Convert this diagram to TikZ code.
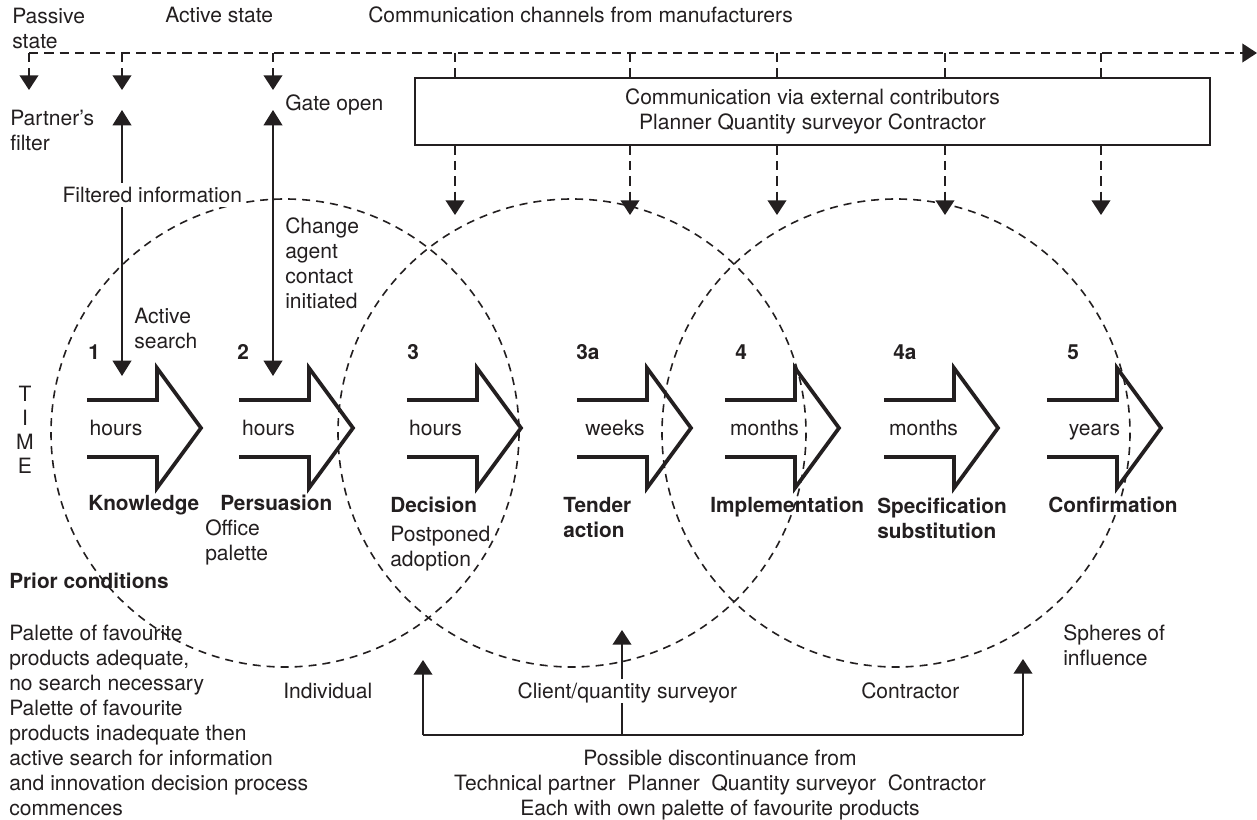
\documentclass[tikz,border=0pt]{standalone}
\usepackage{fontspec}
\setmainfont{TeX Gyre Heros}
\usetikzlibrary{arrows.meta}
\definecolor{ink}{RGB}{35,31,32}
\newcommand\stagearrow[1]{%
  \draw[bigarrow] (#1,400) -- (#1+70,400) -- (#1+70,368) -- (#1+114,428)
    -- (#1+70,488) -- (#1+70,457) -- (#1,457);}
\begin{document}
\begin{tikzpicture}[x=0.75pt,y=-0.75pt,
  txt/.style={font=\fontsize{15.8}{18.75}\selectfont, text=ink, inner sep=0pt, align=left},
  one/.style={txt, text height=11.3pt, text depth=0pt},
  bold/.style={font=\fontsize{15.6}{18.75}\selectfont\bfseries},
  dashln/.style={draw=ink, line width=1.4pt, dash pattern=on 7pt off 4.5pt},
  sphere/.style={draw=ink, line width=1.2pt, dash pattern=on 6pt off 4.5pt},
  solidln/.style={draw=ink, line width=1.3pt},
  tipA/.style={-{Triangle[width=14pt,length=11pt]}},
  bothA/.style={{Triangle[width=14pt,length=11.5pt]}-{Triangle[width=14pt,length=11.5pt]}},
  bigarrow/.style={draw=ink, line width=2.8pt, line join=miter},
  knock/.style={fill=white, inner xsep=1pt, inner ysep=3pt}
]
\fill[white] (0,0) rectangle (1257,820);
\useasboundingbox (0,0) rectangle (1257,820);

% spheres of influence
\draw[sphere] (285,433) circle[radius=234];
\draw[sphere] (572,433) circle[radius=234];
\draw[sphere] (896,433) circle[radius=234];

% stage arrows
\stagearrow{87}
\stagearrow{239}
\stagearrow{407}
\stagearrow{577}
\stagearrow{725}
\stagearrow{884}
\stagearrow{1047}

% manufacturers' channel
\coordinate (c0) at (29,53);
\coordinate (cend) at (1257,53);
\coordinate (c1) at (122,53);
\coordinate (c2) at (273,53);
\draw[dashln,tipA] (c0) -- (cend);
\coordinate (p0) at (29,90);
\coordinate (p1) at (122,90);
\coordinate (p2) at (273,90);
\draw[dashln,tipA] (c0) -- (p0);
\draw[dashln,tipA] (c1) -- (p1);
\draw[dashln,tipA] (c2) -- (p2);

% external contributors box
\node[draw=ink, line width=0.9pt, minimum width=596.25pt, minimum height=50.25pt,
      txt, align=center] (box) at (812.5,111.5)
      {Communication via external contributors\\Planner Quantity surveyor Contractor};
\foreach \xx [count=\i] in {455,630,777,945,1101}{
  \coordinate (d\i) at (\xx,53);
  \coordinate (e\i) at (\xx,215);
  \draw[dashln] (d\i) -- (box.north -| d\i);
  \draw[dashln,tipA] (box.south -| d\i) -- (e\i);
}

% active search / change agent links
\coordinate (f1) at (122,110);
\coordinate (f2) at (122,376);
\coordinate (g1) at (273,110);
\coordinate (g2) at (273,376);
\draw[solidln,bothA] (f1) -- (f2);
\draw[solidln,bothA] (g1) -- (g2);

% discontinuance feedback
\coordinate (b1) at (423,735);
\coordinate (b2) at (622,735);
\coordinate (b3) at (1023,735);
\coordinate (t1) at (423,660);
\coordinate (t2) at (622,630);
\coordinate (t3) at (1023,659);
\draw[solidln] (b1) -- (b3);
\draw[solidln,tipA] (b1) -- (t1);
\draw[solidln,tipA] (b2) -- (t2);
\draw[solidln,tipA] (b3) -- (t3);

% top labels
\node[txt, anchor=north west] (passive) at (12,7.5) {Passive\\state};
\node[one, anchor=west] (active) at (165,15) {Active state};
\node[one, anchor=west] (channels) at (368,15) {Communication channels from manufacturers};
\node[txt, anchor=north west] (filter) at (10,110) {Partner's\\filter};
\node[one, anchor=west] (gate) at (285,103) {Gate open};
\node[one, knock, anchor=west] (filtered) at (61,195) {Filtered information};
\node[txt, anchor=north west] (search) at (134,307.5) {Active\\search};
\node[txt, anchor=north west] (agent) at (285,217.5) {Change\\agent\\contact\\initiated};

% time axis
\node[txt, align=center, anchor=north, font=\fontsize{15.8}{18}\selectfont] (time) at (25,385.5) {T\\I\\M\\E};

% stage numbers
\node[one, bold, anchor=west] (n1) at (88,352) {1};
\node[one, bold, anchor=west] (n2) at (237,352) {2};
\node[one, bold, anchor=west] (n3) at (407,352) {3};
\node[one, bold, anchor=west] (n3a) at (576,352) {3a};
\node[one, bold, anchor=west] (n4) at (735,352) {4};
\node[one, bold, anchor=west] (n4a) at (893,352) {4a};
\node[one, bold, anchor=west] (n5) at (1067,352) {5};

% durations
\node[one] (h1) at (116,428) {hours};
\node[one] (h2) at (268.5,428) {hours};
\node[one] (h3) at (435.5,428) {hours};
\node[one] (h3a) at (615,428) {weeks};
\node[one] (h4) at (764.5,428) {months};
\node[one] (h4a) at (923.5,428) {months};
\node[one] (h5) at (1094.5,428) {years};

% stage names
\node[one, bold, anchor=west] (s1) at (88,503) {Knowledge};
\node[one, bold, anchor=west] (s2) at (220,503) {Persuasion};
\node[one, bold, anchor=west] (s3) at (390,505) {Decision};
\node[txt, bold, anchor=north west] (s3a) at (563,497.5) {Tender\\action};
\node[one, bold, anchor=west] (s4) at (710,505) {Implementation};
\node[txt, bold, anchor=north west] (s4a) at (877,497.5) {Specification\\substitution};
\node[one, bold, anchor=west] (s5) at (1048,505) {Confirmation};

\node[txt, anchor=north west] (office) at (205,519.5) {Office\\palette};
\node[txt, anchor=north west] (postponed) at (390,525.5) {Postponed\\adoption};

% prior conditions
\node[one, bold, anchor=west] (prior) at (9,581) {Prior conditions};
\node[txt, anchor=north west] (priortext) at (9,624.5)
  {Palette of favourite\\products adequate,\\no search necessary\\Palette of favourite\\products inadequate then\\active search for information\\and innovation decision process\\commences};

% sphere labels
\node[one, anchor=west] (individual) at (283,691) {Individual};
\node[one, knock, anchor=west] (client) at (516,691) {Client/quantity surveyor};
\node[one, anchor=west] (contractor) at (861,691) {Contractor};
\node[txt, anchor=north west] (spheres) at (1063,624.5) {Spheres of\\influence};

% discontinuance text
\node[txt, align=center, anchor=north] (discont) at (720,749.5)
  {Possible discontinuance from\\Technical partner\ \ Planner\ \ Quantity surveyor\ \ Contractor\\Each with own palette of favourite products};
\end{tikzpicture}
\end{document}
